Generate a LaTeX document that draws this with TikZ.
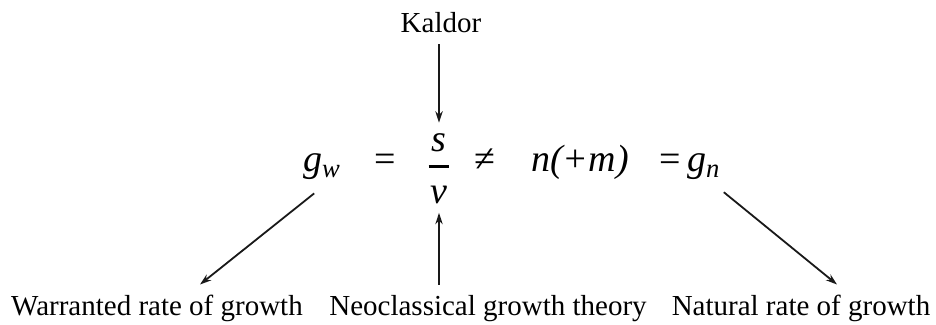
\documentclass[tikz,border=0pt]{standalone}
\usepackage{amsmath}
\usepackage{fontspec}
\setmainfont{Liberation Serif}
\usetikzlibrary{arrows.meta}

\begin{document}
\begin{tikzpicture}[x=0.5pt,y=-0.5pt,>={Stealth[length=2mm,width=1.3mm]},
  lbl/.style={anchor=base,font=\fontsize{14.5}{17}\selectfont,text=black},
  eqn/.style={anchor=base,font=\fontsize{19}{22}\selectfont\itshape,text=black},
  arr/.style={->,line width=0.9pt,draw=black!90}]
  \useasboundingbox (0,0) rectangle (936,325);
  % top label
  \node[lbl] (kaldor) at (441,33) {Kaldor};
  % the equation
  \node[eqn] (gw) at (322,172) {g\textsubscript{w}};
  \node[eqn] (eqa) at (385,172) {\upshape =};
  \node[eqn] (frac) at (439,175) {$\displaystyle\genfrac{}{}{1.3pt}{0}{\kern1pt\textit{s}\kern1pt}{\kern1pt\textit{v}\rule{0pt}{14pt}\kern1pt}$};
  \node[eqn] (neq) at (485,172) {\upshape ≠};
  \node[eqn] (nm) at (580,172) {n(+m)};
  \node[eqn] (eqgn) at (690,172) {{\upshape =}\,g\textsubscript{n}};
  % bottom labels
  \node[lbl] (warranted) at (157,316) {Warranted rate of growth};
  \node[lbl] (neo) at (488,316) {Neoclassical growth theory};
  \node[lbl] (natural) at (801,316) {Natural rate of growth};
  \coordinate (wtip) at ([xshift=21.5pt,yshift=2pt]warranted.north);
  \coordinate (ntip) at ([xshift=18pt,yshift=2pt]natural.north);
  % arrows
  \draw[arr, shorten <=2pt, shorten >=2pt] (kaldor.south -| frac.north) -- (frac.north);
  \draw[arr, shorten <=2pt, shorten >=1pt] (neo.north -| frac.south) -- (frac.south);
  \draw[arr, shorten <=5pt] (gw.south) -- (wtip);
  \draw[arr, shorten <=4pt] ([xshift=-5pt]eqgn.south east) -- (ntip);
\end{tikzpicture}
\end{document}
